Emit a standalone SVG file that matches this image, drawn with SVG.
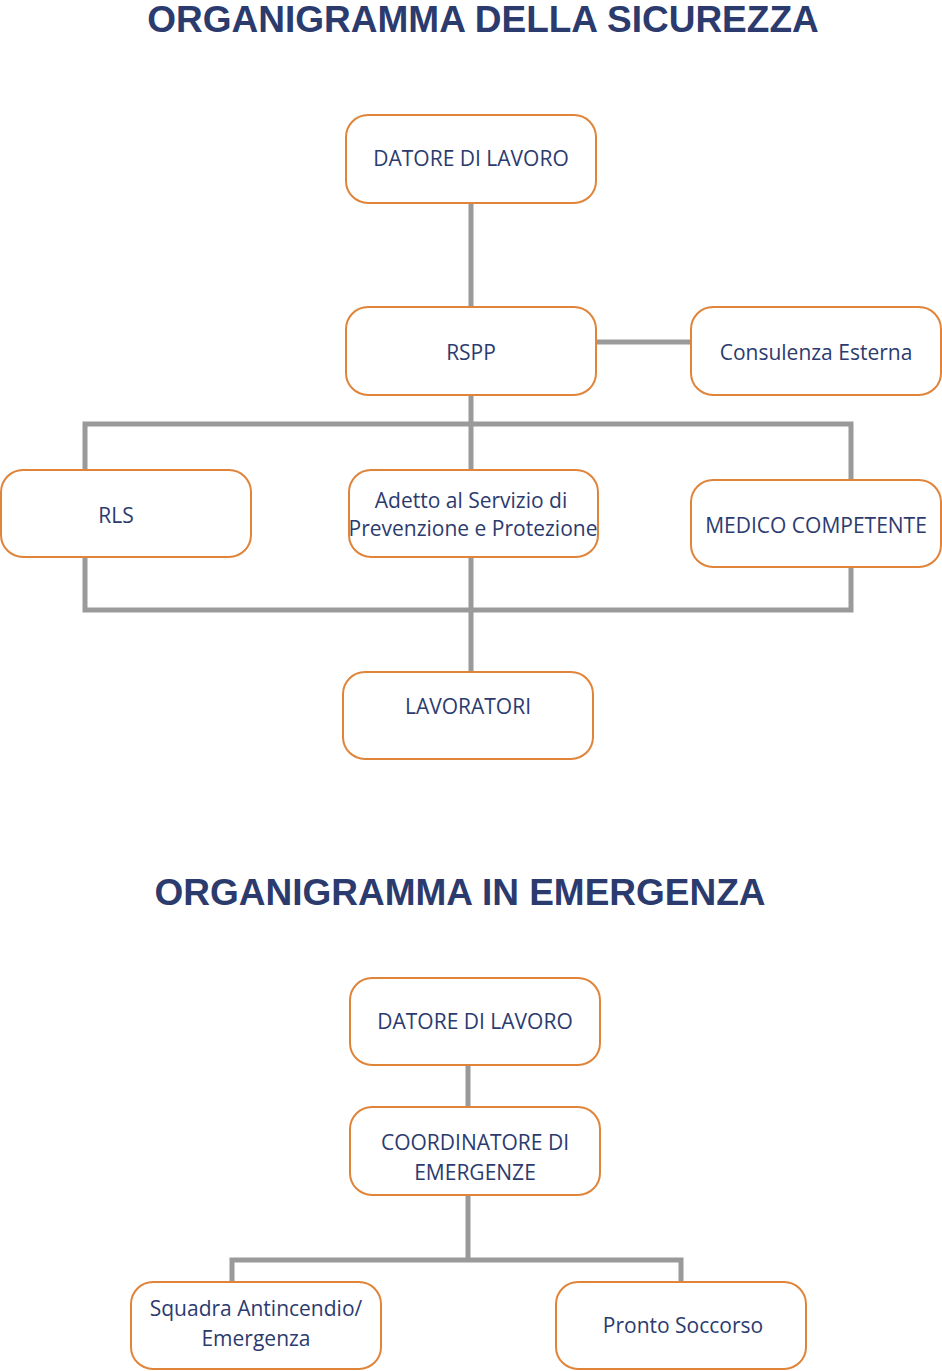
<svg xmlns="http://www.w3.org/2000/svg" width="942" height="1371" viewBox="0 0 942 1371">
<style>
.box{fill:#fff;stroke:#e0843a;stroke-width:2}
.t{font-family:"Open Sans","Liberation Sans",sans-serif;font-size:21px;fill:#2c3b6e;text-anchor:middle}
.h{font-family:"Liberation Sans",sans-serif;font-weight:bold;font-size:37px;fill:#2c3b6e;text-anchor:middle}
.c{stroke:#9a9a9a;stroke-width:5;fill:none}
</style>
<rect width="942" height="1371" fill="#fff"/>
<text class="h" x="483" y="32">ORGANIGRAMMA DELLA SICUREZZA</text>
<text class="h" x="460" y="905">ORGANIGRAMMA IN EMERGENZA</text>
<g id="connectors">
<path class="c" d="M471 203V307M596 342H691M471 395V672M85 470V424H851V480M85 557V610H851V567"/>
<path class="c" d="M468 1065V1107M468 1195V1260M232 1282V1260H681V1282"/>
</g>
<g id="datore"><rect class="box" x="346" y="115" width="250" height="88" rx="22"/><text class="t" x="471" y="166">DATORE DI LAVORO</text></g>
<g id="rspp"><rect class="box" x="346" y="307" width="250" height="88" rx="22"/><text class="t" x="471" y="360">RSPP</text></g>
<g id="consulenza"><rect class="box" x="691" y="307" width="250" height="88" rx="22"/><text class="t" x="816" y="360">Consulenza Esterna</text></g>
<g id="rls"><rect class="box" x="1" y="470" width="250" height="87" rx="22"/><text class="t" x="116" y="523">RLS</text></g>
<g id="adetto"><rect class="box" x="349" y="470" width="249" height="87" rx="22"/><text class="t" x="471" y="508">Adetto al Servizio di</text><text class="t" x="473" y="536">Prevenzione e Protezione</text></g>
<g id="medico"><rect class="box" x="691" y="480" width="250" height="87" rx="22"/><text class="t" x="816" y="533">MEDICO COMPETENTE</text></g>
<g id="lavoratori"><rect class="box" x="343" y="672" width="250" height="87" rx="22"/><text class="t" x="468" y="714">LAVORATORI</text></g>
<g id="datore2"><rect class="box" x="350" y="978" width="250" height="87" rx="22"/><text class="t" x="475" y="1029">DATORE DI LAVORO</text></g>
<g id="coord"><rect class="box" x="350" y="1107" width="250" height="88" rx="22"/><text class="t" x="475" y="1150">COORDINATORE DI</text><text class="t" x="475" y="1180">EMERGENZE</text></g>
<g id="squadra"><rect class="box" x="131" y="1282" width="250" height="87" rx="22"/><text class="t" x="256" y="1316">Squadra Antincendio/</text><text class="t" x="256" y="1346">Emergenza</text></g>
<g id="pronto"><rect class="box" x="556" y="1282" width="250" height="87" rx="22"/><text class="t" x="683" y="1333">Pronto Soccorso</text></g>
</svg>
